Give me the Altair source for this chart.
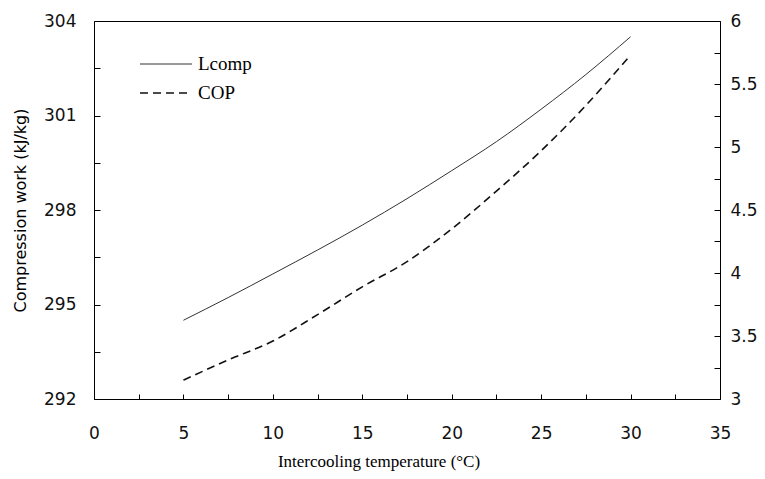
import altair as alt
import pandas as pd

# ---- data ----
temps = [5, 7.5, 10, 12.5, 15, 17.5, 20, 22.5, 25, 27.5, 30]
lcomp = [294.5, 295.22, 295.97, 296.73, 297.52, 298.36, 299.25, 300.17, 301.2, 302.3, 303.5]
cop = [3.15, 3.31, 3.46, 3.67, 3.89, 4.09, 4.35, 4.65, 4.97, 5.33, 5.73]

x_ticks = [0, 2.5, 5, 7.5, 10, 12.5, 15, 17.5, 20, 22.5, 25, 27.5, 30, 32.5, 35]
left_ticks = [292, 293.5, 295, 296.5, 298, 299.5, 301, 302.5, 304]
right_ticks = [3, 3.25, 3.5, 3.75, 4, 4.25, 4.5, 4.75, 5, 5.25, 5.5, 5.75, 6]
legend_labels = ["Lcomp", "COP"]

df_l = pd.DataFrame({"temp": temps, "lcomp": lcomp})
df_c = pd.DataFrame({"temp": temps, "cop": cop})
df_leg_l = pd.DataFrame({"label": [legend_labels[0]]})
df_leg_c = pd.DataFrame({"label": [legend_labels[1]]})

SANS = "DejaVu Sans"
SERIF = "Liberation Serif"

x_axis = alt.Axis(
    values=x_ticks,
    format="~g",
    labelExpr="datum.value % 5 == 0 ? datum.label : ''",
    domain=False, grid=False,
    ticks=True, tickSize=5, offset=-5, tickColor="black",
    labelFont=SANS, labelFontSize=17, labelColor="#111111",
    labelPadding=34, labelBaseline="middle",
    labelFlush=False, labelOverlap=False,
    title="Intercooling temperature (°C)",
    titleFont=SERIF, titleFontSize=17, titleFontWeight="normal", titleColor="black",
    titleX=284.5, titleY=72, titleAlign="center", titleBaseline="alphabetic",
)

x_enc = alt.X("temp:Q", scale=alt.Scale(domain=[0, 35], nice=False, zero=False), axis=x_axis)

left_axis = alt.Axis(
    orient="left",
    values=left_ticks,
    format="~g",
    labelExpr="(datum.value - 292) % 3 == 0 ? datum.label : ''",
    domain=False, grid=False,
    ticks=True, tickSize=6, offset=-6, tickColor="black",
    labelFont=SANS, labelFontSize=17, labelColor="#111111",
    labelPadding=18, labelBaseline="middle",
    labelFlush=False, labelOverlap=False,
    title="Compression work (kJ/kg)",
    titleFont=SANS, titleFontSize=16, titleFontWeight="normal", titleColor="black",
    titleX=-80, titleAngle=-90, titleBaseline="middle", titleAlign="center",
)

right_axis = alt.Axis(
    orient="right",
    values=right_ticks,
    format="~g",
    labelExpr="datum.value % 0.5 == 0 ? datum.label : ''",
    domain=False, grid=False,
    ticks=True, tickSize=6, offset=-6, tickColor="black",
    labelFont=SANS, labelFontSize=17, labelColor="#111111",
    labelPadding=10, labelBaseline="middle",
    labelFlush=False, labelOverlap=False,
    title=None,
)

line_l = alt.Chart(df_l).mark_line(
    color="#333333", strokeWidth=1, interpolate="monotone"
).encode(
    x=x_enc,
    y=alt.Y("lcomp:Q", scale=alt.Scale(domain=[292, 304], nice=False, zero=False), axis=left_axis),
)

line_c = alt.Chart(df_c).mark_line(
    color="#111111", strokeWidth=1.6, strokeDash=[8, 5], interpolate="monotone"
).encode(
    x=x_enc,
    y=alt.Y("cop:Q", scale=alt.Scale(domain=[3, 6], nice=False, zero=False), axis=right_axis),
)

leg_rule_l = alt.Chart(df_leg_l).mark_rule(color="#333333", strokeWidth=1).encode(
    x=alt.value(46), x2=alt.value(98), y=alt.value(43)
)
leg_rule_c = alt.Chart(df_leg_c).mark_rule(color="#111111", strokeWidth=1.4, strokeDash=[8, 5]).encode(
    x=alt.value(46), x2=alt.value(98), y=alt.value(72)
)
leg_text_l = alt.Chart(df_leg_l).mark_text(
    align="left", baseline="middle", font=SERIF, fontSize=19, color="black"
).encode(x=alt.value(104), y=alt.value(43), text="label:N")
leg_text_c = alt.Chart(df_leg_c).mark_text(
    align="left", baseline="middle", font=SERIF, fontSize=19, color="black"
).encode(x=alt.value(104), y=alt.value(72), text="label:N")

chart = alt.layer(
    line_l, line_c, leg_rule_l, leg_rule_c, leg_text_l, leg_text_c
).resolve_scale(
    y="independent"
).properties(
    width=626, height=378,
    padding={"left": 86, "top": 13, "right": 37, "bottom": 72},
    autosize=alt.AutoSizeParams(type="none"),
    background="white",
).configure_view(
    stroke="black", strokeWidth=1
)

chart.save("out.html", embed_options={"renderer": "svg", "actions": False})
